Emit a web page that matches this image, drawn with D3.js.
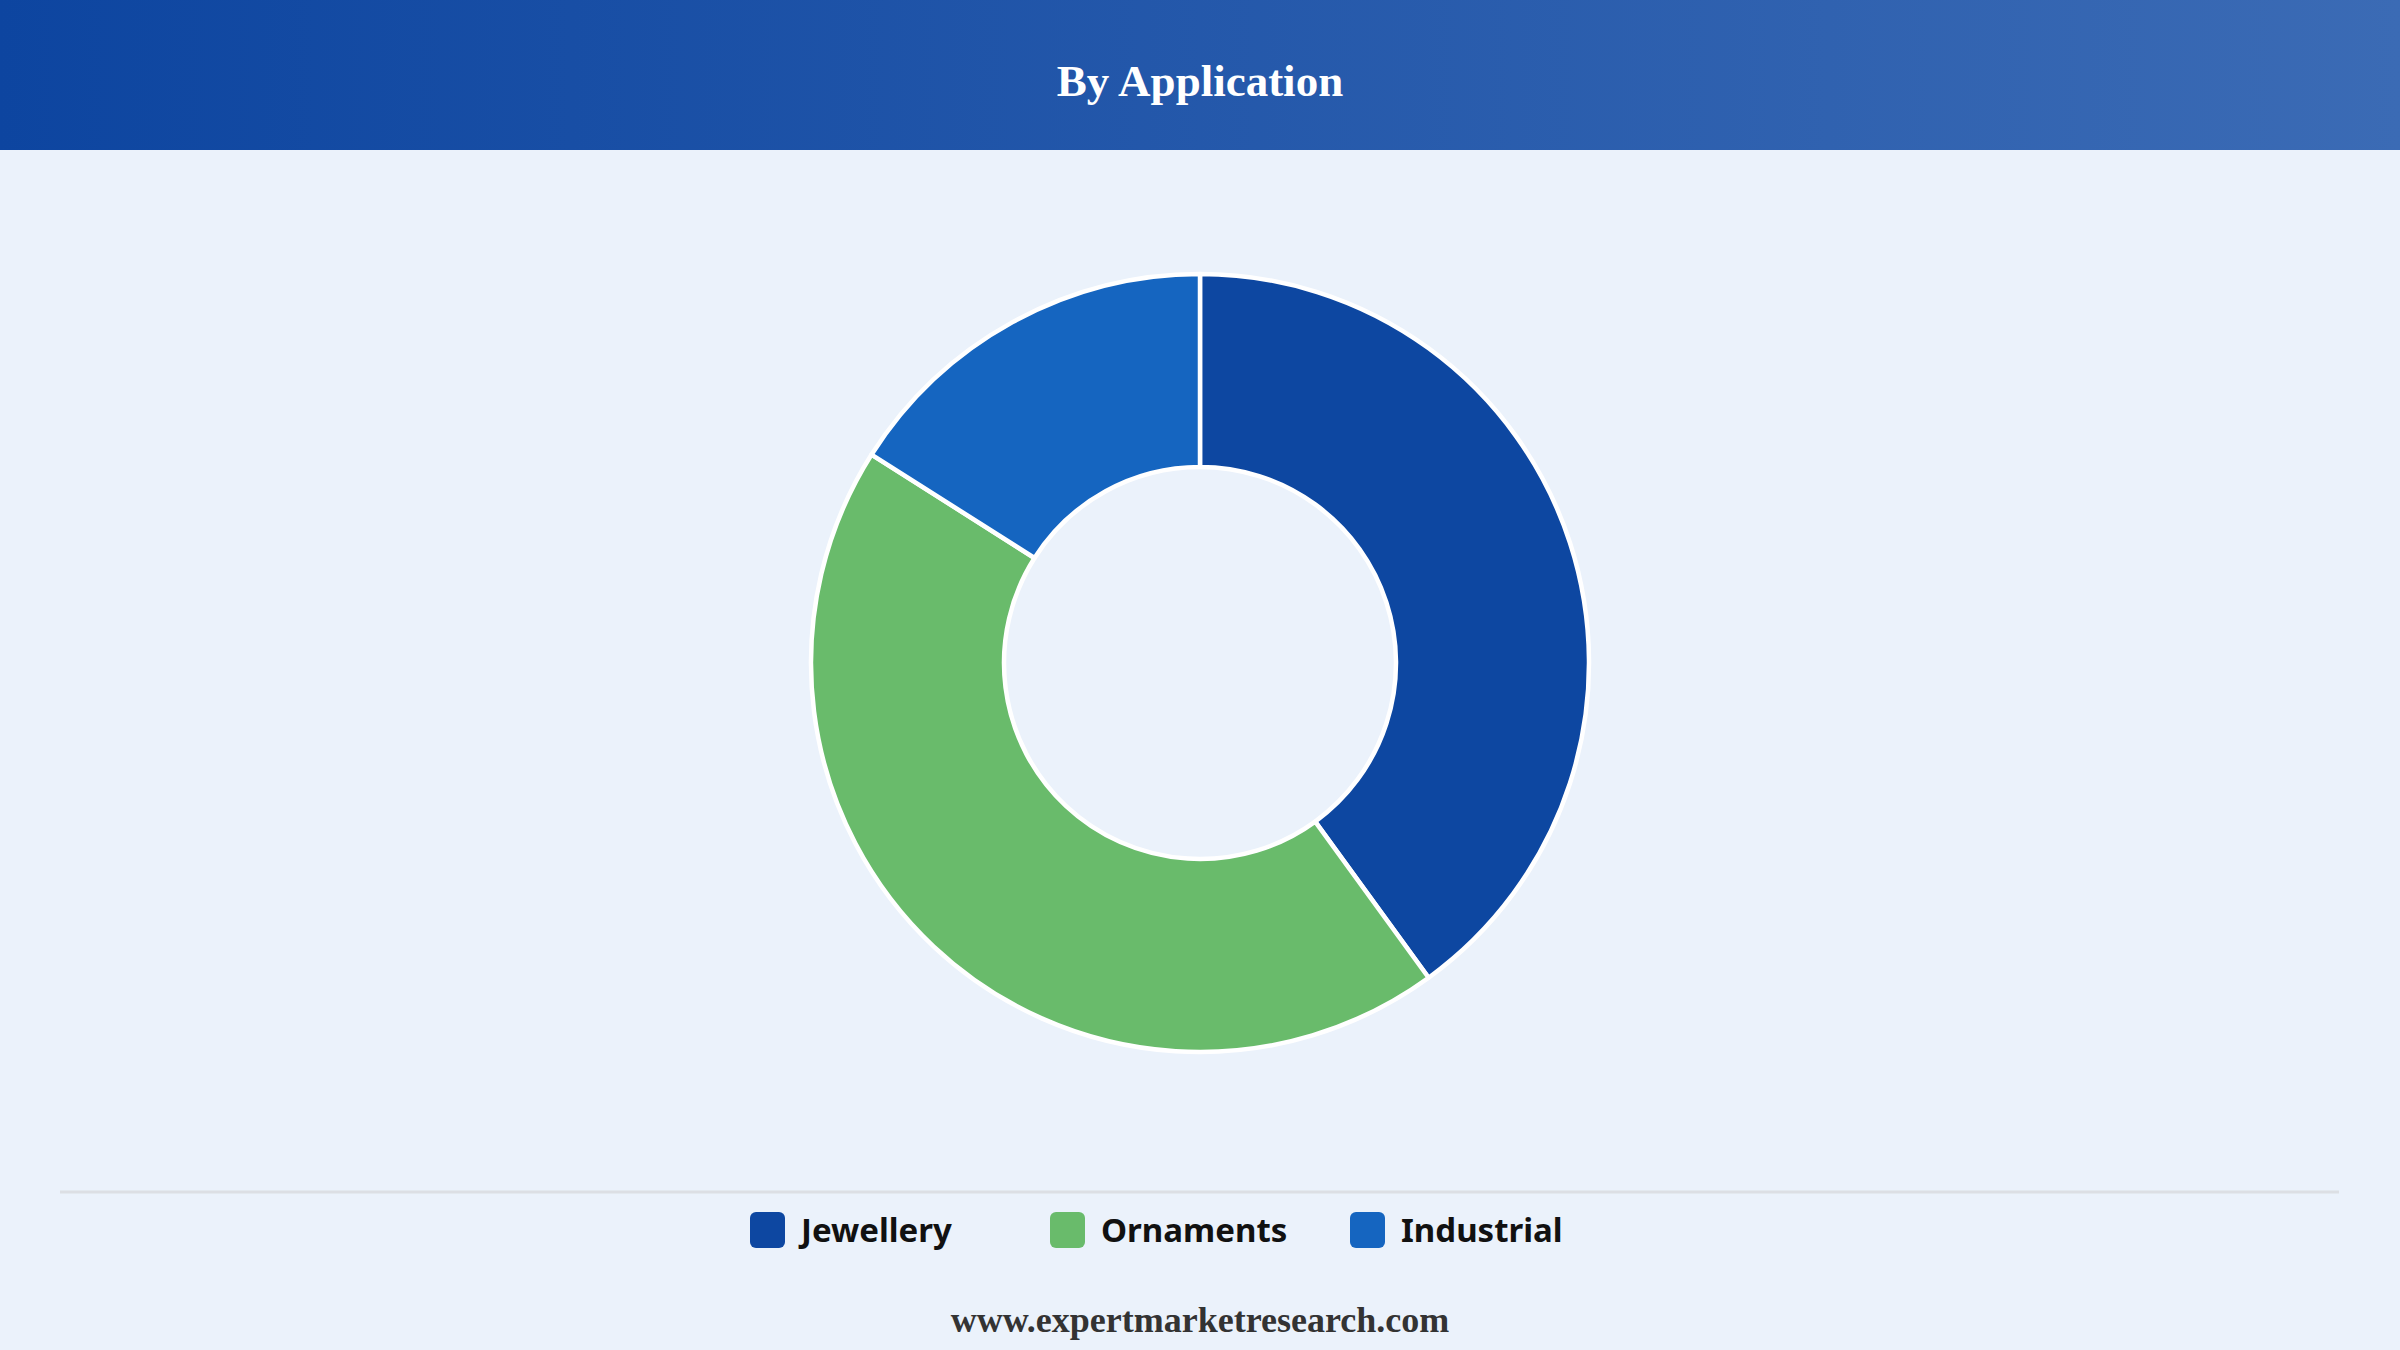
<!DOCTYPE html>
<html><head><meta charset="utf-8">
<script src="https://cdn.jsdelivr.net/npm/d3@7"></script>
<style>
html,body{margin:0;padding:0;background:#ebf2fb;}
svg{display:block;}
</style></head>
<body>
<svg id="chart" width="2400" height="1350"></svg>
<script>
const categories = ["Jewellery", "Ornaments", "Industrial"];
const values = [40.0, 44.0, 16.0];
const colors = ["#0d47a1", "#69bb6b", "#1565c0"];
const title = "By Application";
const footer = "www.expertmarketresearch.com";

const W = 2400, H = 1350;
const svg = d3.select("#chart");

const defs = svg.append("defs");
const grad = defs.append("linearGradient").attr("id","hdr").attr("x1","0%").attr("x2","100%");
grad.append("stop").attr("offset","0%").attr("stop-color","#0d45a0");
grad.append("stop").attr("offset","100%").attr("stop-color","#3b6bb5");

svg.append("rect").attr("width",W).attr("height",H).attr("fill","#ebf2fb");
svg.append("rect").attr("width",W).attr("height",150).attr("fill","url(#hdr)");
svg.append("text").attr("x",W/2).attr("y",96).attr("text-anchor","middle")
  .attr("font-family","'Liberation Serif','Times New Roman',serif").attr("font-weight","bold")
  .attr("font-size",45).attr("fill","#ffffff").text(title);

const cx = 1200, cy = 663, rOuter = 389, rInner = 196;
const data = categories.map((c,i)=>({name:c, value:values[i], color:colors[i]}));
const pie = d3.pie().value(d=>d.value).sort(null);
const arc = d3.arc().innerRadius(rInner).outerRadius(rOuter);
const g = svg.append("g").attr("transform",`translate(${cx},${cy})`);
g.selectAll("path").data(pie(data)).join("path")
  .attr("d",arc).attr("fill",d=>d.data.color)
  .attr("stroke","#ffffff").attr("stroke-width",4.5).attr("stroke-linejoin","round");

// separator
svg.append("line").attr("x1",60).attr("x2",2339).attr("y1",1192).attr("y2",1192)
  .attr("stroke","#dcdfe4").attr("stroke-width",3);

// legend
const lx = d3.scalePoint().domain(categories).range([750,1350]);
const lg = svg.append("g");
const items = lg.selectAll("g").data(data).join("g")
  .attr("transform",d=>`translate(${lx(d.name)},1212)`);
items.append("rect").attr("width",35).attr("height",36).attr("rx",6).attr("ry",6)
  .attr("fill",d=>d.color);
items.append("text").attr("x",51).attr("y",30)
  .attr("font-family","'Noto Sans','Open Sans',sans-serif").attr("font-weight","bold")
  .attr("font-size",33).attr("fill","#111111").text(d=>d.name);

svg.append("text").attr("x",W/2).attr("y",1332).attr("text-anchor","middle")
  .attr("font-family","'Liberation Serif','Times New Roman',serif").attr("font-weight","bold")
  .attr("font-size",36).attr("fill","#333333").text(footer);
</script>
</body></html>
